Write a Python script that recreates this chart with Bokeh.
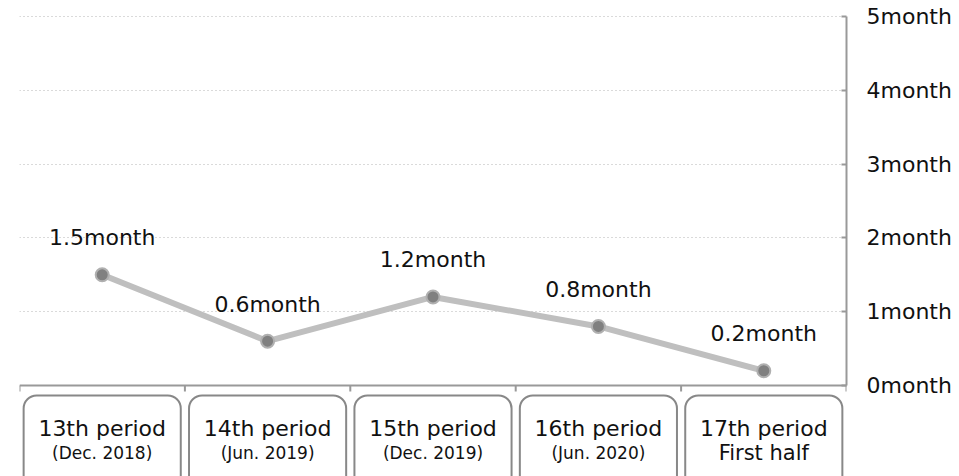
from bokeh.plotting import figure
from bokeh.models import Range1d, LinearAxis, FixedTicker, Grid, ColumnDataSource
from bokeh.core.properties import value
from bokeh.embed import file_html
from bokeh.resources import INLINE

# ---- data ----
periods = ["13th period", "14th period", "15th period", "16th period", "17th period"]
sub_labels = ["(Dec. 2018)", "(Jun. 2019)", "(Dec. 2019)", "(Jun. 2020)", "First half"]
months = [1.5, 0.6, 1.2, 0.8, 0.2]
month_labels = ["1.5month", "0.6month", "1.2month", "0.8month", "0.2month"]
y_ticks = [0, 1, 2, 3, 4, 5]
y_tick_labels = ["0month", "1month", "2month", "3month", "4month", "5month"]

FONT = "DejaVu Sans"
W, H = 959, 476
LEFT, RIGHT = 19, 113
PX_PER_UNIT = 73.8          # vertical pixels per month
ZERO_PX = 385               # pixel row of 0 month
n = len(periods)
xs = [i + 0.5 for i in range(n)]

y_top = ZERO_PX / PX_PER_UNIT
y_bot = -(H - ZERO_PX) / PX_PER_UNIT
px = lambda p: p / PX_PER_UNIT

p = figure(width=W, height=H, output_backend="svg", toolbar_location=None,
           x_range=Range1d(0, n), y_range=Range1d(y_bot, y_top),
           x_axis_location=None, y_axis_location=None,
           min_border_left=LEFT, min_border_right=RIGHT,
           min_border_top=0, min_border_bottom=0)
p.outline_line_color = None
p.background_fill_color = "white"
p.border_fill_color = "white"
p.xgrid.visible = False
p.ygrid.visible = False

# right axis
ax = LinearAxis(ticker=FixedTicker(ticks=y_ticks), bounds=(0, 5),
                major_label_overrides={t: l for t, l in zip(y_ticks, y_tick_labels)})
ax.axis_line_color = "#999999"
ax.axis_line_width = 2
ax.major_tick_line_color = "#999999"
ax.major_tick_line_width = 2
ax.major_tick_in = 5
ax.major_tick_out = 0
ax.minor_tick_line_color = None
ax.major_label_standoff = 20
ax.major_label_text_font = FONT
ax.major_label_text_font_size = "22px"
ax.major_label_text_color = "#111111"
p.add_layout(ax, "right")

grid = Grid(dimension=1, ticker=FixedTicker(ticks=y_ticks[1:]))
grid.grid_line_color = "#b4b4b4"
grid.grid_line_dash = "1 3"
grid.grid_line_width = 1
p.add_layout(grid)

# bottom category axis line and ticks
p.segment(x0=[0], y0=[0], x1=[n + 0.015], y1=[0], line_color="#999999", line_width=2)
bounds = list(range(n + 1))
p.segment(x0=bounds, y0=[0] * len(bounds), x1=bounds, y1=[-px(6)] * len(bounds),
          line_color="#999999", line_width=2)

# category boxes
p.quad(left=[i + 0.025 for i in range(n)], right=[i + 0.975 for i in range(n)],
       top=[-px(10)] * n, bottom=[y_bot - 1] * n,
       fill_color="white", line_color="#888888", line_width=2, border_radius=13)

src_lab = ColumnDataSource(dict(x=xs, period=periods, sub=sub_labels,
                                y1=[-px(43)] * n, y2=[-px(67)] * n,
                                subsize=["17px", "17px", "17px", "17px", "21px"]))
p.text(x="x", y="y1", text="period", source=src_lab, text_align="center",
       text_baseline="middle", text_font=value(FONT), text_font_size="22px",
       text_color="#111111")
p.text(x="x", y="y2", text="sub", source=src_lab, text_align="center",
       text_baseline="middle", text_font=value(FONT), text_font_size="subsize",
       text_color="#111111")

# line + markers
src = ColumnDataSource(dict(x=xs, y=months, lab=month_labels))
p.line(x="x", y="y", source=src, line_color="#bfbfbf", line_width=6)
p.scatter(x="x", y="y", source=src, size=13, fill_color="#808080",
          line_color="#b0b0b0", line_width=2)
p.text(x="x", y="y", text="lab", source=src, text_align="center",
       text_baseline="middle", y_offset=-37, text_font=value(FONT),
       text_font_size="22px", text_color="#111111")

open("out.html", "w").write(file_html(p, INLINE))
